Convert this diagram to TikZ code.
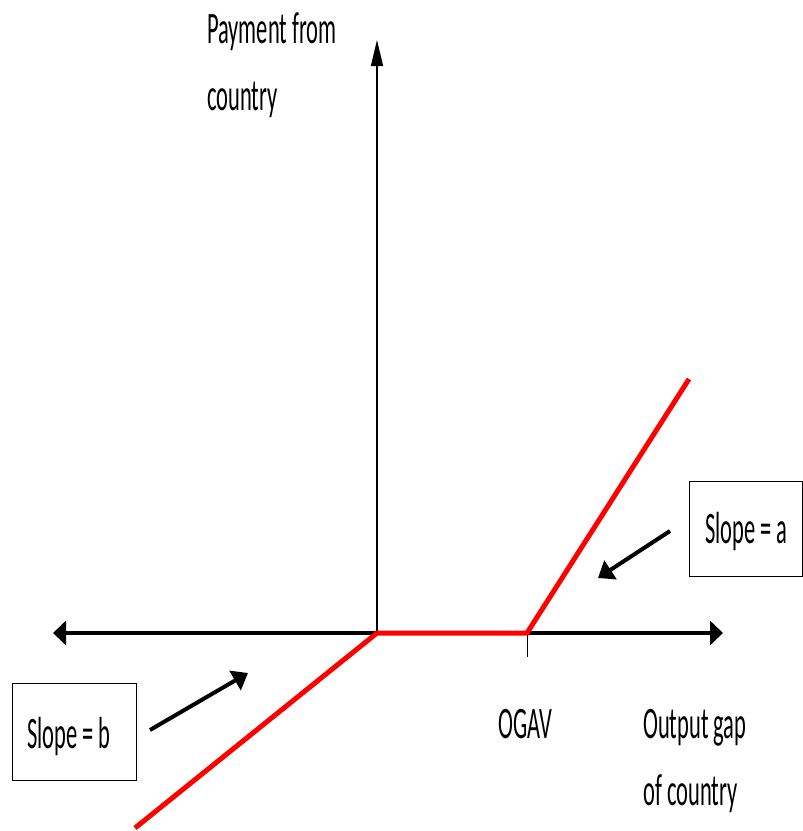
\documentclass[tikz,border=0pt]{standalone}
\usepackage{fontspec}
\setmainfont[FakeStretch=0.5]{Carlito}
\usetikzlibrary{arrows.meta}
\begin{document}
\begin{tikzpicture}[x=1pt,y=-1pt,
  lbl/.style={anchor=base west, inner sep=0pt, font=\fontsize{45}{54}\selectfont},
  xaxis/.style={line width=4pt, black, {Triangle[length=13pt,width=24pt]}-{Triangle[length=13pt,width=24pt]}},
  yaxis/.style={line width=1.5pt, black, -{Triangle[length=26pt,width=12pt]}},
  redline/.style={line width=5pt, red},
  tickline/.style={line width=1pt, black},
  box/.style={draw, line width=1pt, inner sep=0pt},
  ptr/.style={line width=4pt, black, -{Triangle[length=15pt,width=22pt]}}
]
\useasboundingbox (0,0) rectangle (803,831);
% coordinates
\coordinate (O) at (377,633);
\coordinate (yt) at (377,40);
\coordinate (xl) at (53,633);
\coordinate (xr) at (723,633);
\coordinate (og) at (527,633);
\coordinate (ogt) at (527,657);
\coordinate (rs) at (135,828);
\coordinate (re) at (689,379);
\coordinate (pas) at (670,531);
\coordinate (pae) at (598,578);
\coordinate (pbs) at (150,730);
\coordinate (pbe) at (248,673);
% axes
\draw[xaxis] (xl) -- (xr);
\draw[yaxis] (O) -- (yt);
\draw[tickline] (og) -- (ogt);
% red payment line
\draw[redline] (rs) -- (O) -- (og) -- (re);
% boxes
\node[box, minimum width=113pt, minimum height=95pt] (boxa) at (745.5,528.5) {};
\node[box, minimum width=124pt, minimum height=97pt] (boxb) at (74,731.5) {};
\node[lbl] (slopea) at (705,543) {Slope = a};
\node[lbl] (slopeb) at (27,748) {Slope = b};
% pointer arrows
\draw[ptr] (pas) -- (pae);
\draw[ptr] (pbs) -- (pbe);
% labels
\node[lbl] (ylab1) at (207,43) {Payment from};
\node[lbl] (ylab2) at (207,110) {country};
\node[lbl] (ogav) at (498,738) {OGAV};
\node[lbl] (xlab1) at (643,738) {Output gap};
\node[lbl] (xlab2) at (643,805) {of country};
\end{tikzpicture}
\end{document}
